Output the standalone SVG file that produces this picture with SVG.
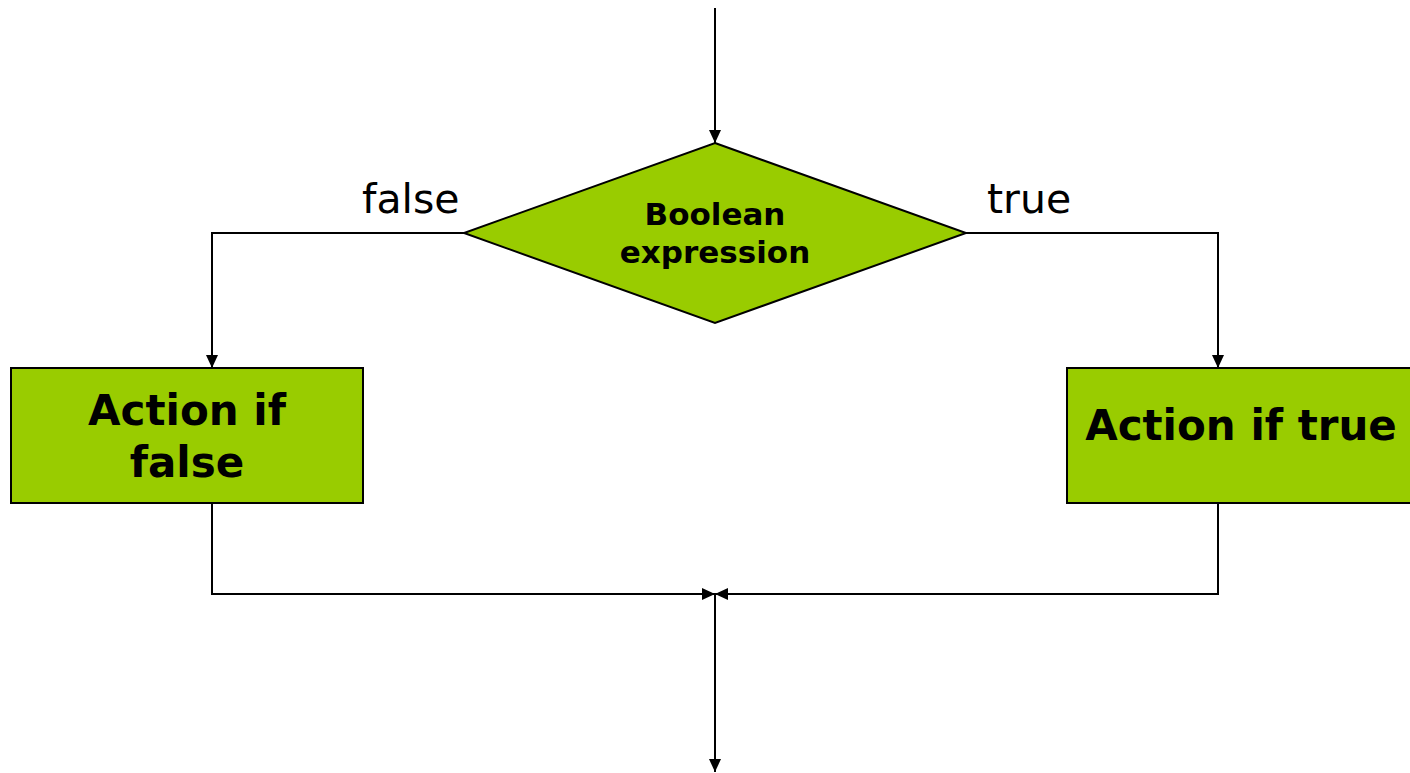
<svg xmlns="http://www.w3.org/2000/svg" width="1410" height="773" viewBox="0 0 1410 773">
  <style>
    .shape { fill: #99CC00; stroke: #000; stroke-width: 2; }
    .wire { fill: none; stroke: #000; stroke-width: 2; }
    .bold { font-family: "DejaVu Sans", Verdana, sans-serif; font-weight: bold; fill: #000; text-anchor: middle; }
    .label { font-family: "DejaVu Sans", Verdana, sans-serif; font-size: 41px; fill: #000; }
  </style>
  <defs>
    <marker id="arrow" markerUnits="userSpaceOnUse" viewBox="0 0 13 12" markerWidth="13" markerHeight="12" refX="13" refY="6" orient="auto">
      <path d="M0,0 L13,6 L0,12 Z" fill="#000"/>
    </marker>
  </defs>

  <rect width="1410" height="773" fill="#fff"/>

  <!-- connectors -->
  <g id="connectors">
    <line class="wire" x1="715" y1="8" x2="715" y2="143" marker-end="url(#arrow)"/>
    <polyline class="wire" points="464,233 212,233 212,368" marker-end="url(#arrow)"/>
    <polyline class="wire" points="966,233 1218,233 1218,368" marker-end="url(#arrow)"/>
    <polyline class="wire" points="212,503 212,594 715,594" marker-end="url(#arrow)"/>
    <polyline class="wire" points="1218,503 1218,594 715,594" marker-end="url(#arrow)"/>
    <line class="wire" x1="715" y1="594" x2="715" y2="772" marker-end="url(#arrow)"/>
  </g>

  <!-- decision -->
  <g id="decision">
    <polygon class="shape" points="715,143 966,233 715,323 464,233"/>
    <text class="bold" x="715" y="225" font-size="31">Boolean</text>
    <text class="bold" x="715" y="263" font-size="31">expression</text>
  </g>

  <!-- branch labels -->
  <g id="label-false">
    <text class="label" x="362" y="213">false</text>
  </g>
  <g id="label-true">
    <text class="label" x="987" y="213">true</text>
  </g>

  <!-- false branch action -->
  <g id="action-false">
    <rect class="shape" x="11" y="368" width="352" height="135"/>
    <text class="bold" x="187" y="425" font-size="42">Action if</text>
    <text class="bold" x="187" y="477" font-size="42">false</text>
  </g>

  <!-- true branch action -->
  <g id="action-true">
    <rect class="shape" x="1067" y="368" width="349" height="135"/>
    <text class="bold" x="1241" y="440" font-size="42">Action if true</text>
  </g>
</svg>
